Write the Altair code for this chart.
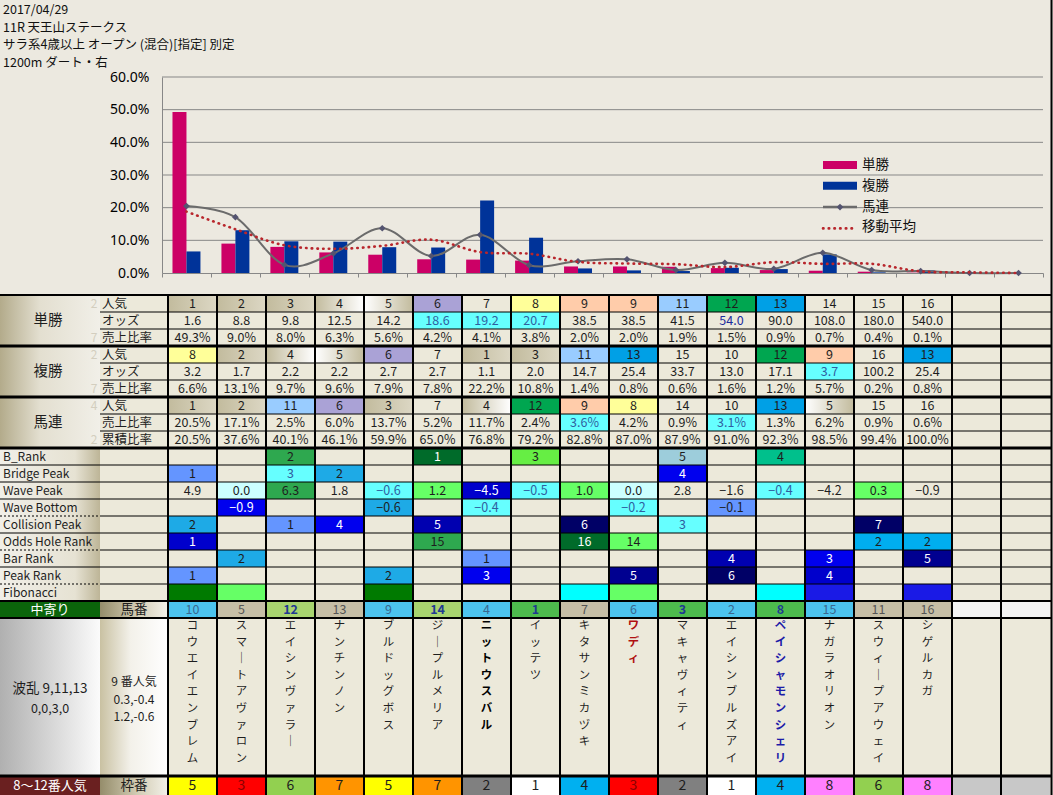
import altair as alt
import pandas as pd

# ---------------- data ----------------
HEADER_LINES = ["2017/04/29", "11R 天王山ステークス", "サラ系4歳以上 オープン (混合)[指定] 別定", "1200m  ダート・右"]
LEGEND_LABELS = ["単勝", "複勝", "馬連", "移動平均"]

SLOTS = list(range(1, 19))
WIN_SHARE = [49.3, 9.0, 8.0, 6.3, 5.6, 4.2, 4.1, 3.8, 2.0, 2.0, 1.9, 1.5, 0.9, 0.7, 0.4, 0.1]
PLACE_SHARE = [6.6, 13.1, 9.7, 9.6, 7.9, 7.8, 22.2, 10.8, 1.4, 0.8, 0.6, 1.6, 1.2, 5.7, 0.2, 0.8]
QUINELLA_LINE = [20.5, 17.1, 2.5, 6.0, 13.7, 5.2, 11.7, 2.4, 3.6, 4.2, 0.9, 3.1, 1.3, 6.2, 0.9, 0.6, 0.0, 0.0]
MOVING_AVG = [18.8, 13.4, 8.5, 7.4, 8.3, 10.2, 6.4, 5.9, 3.4, 2.9, 2.7, 1.8, 3.3, 2.8, 2.8, 0.5, 0.2, 0.0]

GROUP_LABELS = ["単勝", "複勝", "馬連"]
TOP_ROW_LABELS = ["人気", "オッズ", "売上比率", "人気", "オッズ", "売上比率", "人気", "売上比率", "累積比率"]
FAINT_MARKS = {0: "2", 2: "7", 3: "2", 5: "7", 6: "4", 8: "2"}

WIN_POP = [1, 2, 3, 4, 5, 6, 7, 8, 9, 9, 11, 12, 13, 14, 15, 16]
WIN_ODDS = [1.6, 8.8, 9.8, 12.5, 14.2, 18.6, 19.2, 20.7, 38.5, 38.5, 41.5, 54.0, 90.0, 108.0, 180.0, 540.0]
PLACE_POP = [8, 2, 4, 5, 6, 7, 1, 3, 11, 13, 15, 10, 12, 9, 16, 13]
PLACE_ODDS = [3.2, 1.7, 2.2, 2.2, 2.7, 2.7, 1.1, 2.0, 14.7, 25.4, 33.7, 13.0, 17.1, 3.7, 100.2, 25.4]
QUIN_POP = [1, 2, 11, 6, 3, 7, 4, 12, 9, 8, 14, 10, 13, 5, 15, 16]
QUIN_SHARE = [20.5, 17.1, 2.5, 6.0, 13.7, 5.2, 11.7, 2.4, 3.6, 4.2, 0.9, 3.1, 1.3, 6.2, 0.9, 0.6]
QUIN_CUM = [20.5, 37.6, 40.1, 46.1, 59.9, 65.0, 76.8, 79.2, 82.8, 87.0, 87.9, 91.0, 92.3, 98.5, 99.4, 100.0]

WIN_ODDS_STYLE = ["", "", "", "", "", "cy", "cy", "cy", "", "", "", "bt", "", "", "", ""]
PLACE_ODDS_STYLE = ["", "", "", "", "", "", "", "", "", "", "", "", "", "cy", "", ""]
QUIN_SHARE_STYLE = ["", "", "", "", "", "", "", "", "cy", "", "", "cy", "", "", "", ""]

LOW_ROW_LABELS = ["B_Rank", "Bridge Peak", "Wave Peak", "Wave Bottom", "Collision Peak",
                  "Odds Hole Rank", "Bar Rank", "Peak Rank", "Fibonacci"]
B_RANK = ["", "", "2", "", "", "1", "", "3", "", "", "5", "", "4", "", "", ""]
B_RANK_STYLE = ["", "", "mg", "", "", "dg", "", "lm", "", "", "gb", "", "tg", "", "", ""]
BRIDGE_PEAK = ["1", "", "3", "2", "", "", "", "", "", "", "4", "", "", "", "", ""]
BRIDGE_PEAK_STYLE = ["cb", "", "cy", "sk", "", "", "", "", "", "", "b1", "", "", "", "", ""]
WAVE_PEAK = ["4.9", "0.0", "6.3", "1.8", "-0.6", "1.2", "-4.5", "-0.5", "1.0", "0.0", "2.8", "-1.6", "-0.4", "-4.2", "0.3", "-0.9"]
WAVE_PEAK_STYLE = ["", "lc", "mg", "", "cy", "lg", "b2", "cy", "lg", "lc", "", "", "cy", "", "lg", ""]
WAVE_BOTTOM = ["", "-0.9", "", "", "-0.6", "", "-0.4", "", "", "-0.2", "", "-0.1", "", "", "", ""]
WAVE_BOTTOM_STYLE = ["", "b1", "", "", "sk", "", "cy", "", "", "cy", "", "cb", "", "", "", ""]
COLLISION_PEAK = ["2", "", "1", "4", "", "5", "", "", "6", "", "3", "", "", "", "7", ""]
COLLISION_PEAK_STYLE = ["sk", "", "cb", "b1", "", "b3", "", "", "nv", "", "cy", "", "", "", "nv", ""]
ODDS_HOLE_RANK = ["1", "", "", "", "", "15", "", "", "16", "14", "", "", "", "", "2", "2"]
ODDS_HOLE_RANK_STYLE = ["b2", "", "", "", "", "mg", "", "", "dg", "lg", "", "", "", "", "ab", "ab"]
BAR_RANK = ["", "2", "", "", "", "", "1", "", "", "", "", "4", "", "3", "", "5"]
BAR_RANK_STYLE = ["", "sk", "", "", "", "", "cb", "", "", "", "", "b3", "", "b1", "", "b4"]
PEAK_RANK = ["1", "", "", "", "2", "", "3", "", "", "5", "", "6", "", "4", "", ""]
PEAK_RANK_STYLE = ["cb", "", "", "", "sk", "", "b1", "", "", "b4", "", "nv", "", "b2", "", ""]
FIBONACCI = ["", "", "", "", "", "", "", "", "", "", "", "", "", "", "", ""]
FIBONACCI_STYLE = ["fg", "lg", "", "", "fg", "", "", "", "aq", "lg", "", "", "aq", "fb", "", "fb"]

HORSE_NO = [10, 5, 12, 13, 9, 14, 4, 1, 7, 6, 3, 2, 8, 15, 11, 16]
HORSE_NO_STYLE = ["db", "dt", "dl", "dt", "db", "dl", "db", "dd", "dt", "db", "dd", "db", "dd", "db", "dt", "dt"]
HORSE_NO_BOLD = [False, False, True, False, False, True, False, True, False, False, True, False, True, False, False, False]
NAMES = ["コウエイエンブレム", "スマートアヴァロン", "エイシンヴァラー", "ナンチンノン", "ブルドッグボス",
         "ジープルメリア", "ニットウスバル", "イッテツ", "キタサンミカヅキ", "ワディ", "マキャヴィティ",
         "エイシンブルズアイ", "ペイシャモンシェリ", "ナガラオリオン", "スウィープアウェイ", "シゲルカガ"]
NAME_STYLE = ["", "", "", "", "", "", "bk", "", "", "rd", "", "", "bl", "", "", ""]
FRAME_NO = [5, 3, 6, 7, 5, 7, 2, 1, 4, 3, 2, 1, 4, 8, 6, 8]
SUMMARY_LEFT = ["波乱  9,11,13", "0,0,3,0"]
SUMMARY_RIGHT = ["9 番人気", "0.3,-0.4", "1.2,-0.6"]
SIDE_LABELS = {"nakayori": "中寄り", "umaban": "馬番", "wakuban": "枠番", "popular": "8〜12番人気"}

# ---------------- styles ----------------
BG = "#ECE9E0"
CELL = "#ECE9DA"
INK = "#1E1E1E"
WHITE = "#FFFFFF"
FONT = "Noto Sans CJK JP"
PINK, BLUE = "#CC0066", "#003399"
AX = "#878787"

STYLE = {
    "": (None, INK), "bt": (None, "#1B2C9C"), "cy": ("#66FFFF", "#2F5F9F"),
    "mg": ("#2EA84F", INK), "dg": ("#006B2A", WHITE), "lm": ("#66EE44", INK),
    "gb": ("#9DCDDB", INK), "tg": ("#00C08C", INK), "cb": ("#6495FF", INK),
    "sk": ("#1EAAE6", INK), "b1": ("#0000EE", WHITE), "b2": ("#0000CC", WHITE),
    "b3": ("#0000B0", WHITE), "b4": ("#000090", WHITE), "nv": ("#000066", WHITE),
    "lc": ("#CCFFFF", INK), "lg": ("#66FF66", INK), "fg": ("#007A00", INK),
    "aq": ("#00FFFF", INK), "fb": ("#1A1AE6", INK), "ab": ("#00AEEF", INK),
    "p6": ("#AAA2D6", INK), "p8": ("#FFFF99", INK), "p9": ("#FFCCAA", INK),
    "p11": ("#99CCFF", INK), "p12": ("#00A650", INK), "p13": ("#00A0E6", INK),
    "pa": ("g:pop_a", INK), "pb": ("g:pop_b", INK), "pc": ("g:pop_c", INK),
    "db": ("#4CC3EE", "#3A6890"), "dt": ("#C6BEA6", "#555555"), "dl": ("#A8D46F", "#1F3A93"),
    "dd": ("#4DBB4D", "#1F3A93"), "dw": ("#F4F4F4", INK),
}
FRAME_FILL = {1: "#FFFFFF", 2: "#808080", 3: "#FF0000", 4: "#00B0F0", 5: "#FFFF00",
              6: "#92D050", 7: "#FF9400", 8: "#FF80FF"}
GRADS = {
    "lab_top": [("#B3AB8B", 0), ("#E3DFD0", 0.4), ("#F1EFE8", 1)],
    "lab_low": [("#F1EFE8", 0), ("#E6E2D3", 0.75), ("#BDB597", 1)],
    "tan": [("#958D6B", 0), ("#D2CCB4", 0.55), ("#F3F1E9", 1)],
    "gray": [("#B0B0B0", 0), ("#FBFBFB", 1)],
    "tanw": [("#C9C1A2", 0), ("#F3F1EA", 0.45), ("#FFFFFF", 1)],
    "pop_a": [("#C2BB9D", 0), ("#DCD7C4", 1)],
    "pop_b": [("#C2BB9D", 0), ("#FFFFFF", 1)],
    "pop_c": [("#FFFFFF", 0), ("#C2BB9D", 1)],
}


def pop_key(v):
    if v <= 3:
        return "pa"
    if v == 4:
        return "pb"
    if v == 5:
        return "pc"
    k = f"p{v}"
    return k if k in STYLE else ""


def pct(vals):
    return [f"{v:.1f}%" for v in vals]


def num(vals):
    return [f"{v:.1f}" for v in vals]


# ---------------- table geometry ----------------
TOP, RH, CX0, CW, NCOL = 295, 17, 168, 49, 18
LAB_A, LAB_B, RIGHT = 100, 168, 1051
NAME_TOP, NAME_BOT, FRAME_BOT = 618, 776, 795
NAME_FS, NAME_LH = 11.4, 16.6

def cx(k):
    return CX0 + CW * k


def ry(r):
    return TOP + RH * r


rects, grads = [], []
texts = {("center", "normal"): [], ("center", "bold"): [], ("left", "normal"): []}
hrules, hdots, vrules = [], [], []


def add_rect(x, x2, y, y2, fill):
    if fill is None:
        return
    if fill.startswith("g:"):
        grads.append(dict(x=x, x2=x2, y=y, y2=y2, g=fill[2:]))
    else:
        rects.append(dict(x=x, x2=x2, y=y, y2=y2, fill=fill))


def add_text(x, y, t, c=INK, s=12.5, align="center", weight="normal"):
    if t == "":
        return
    texts[(align, weight)].append(dict(x=x, y=y, t=t.replace("-", "−") if t[0] == "-" else t, c=c, s=s))


add_rect(0, RIGHT, TOP, FRAME_BOT, CELL)

# top section
top_rows = [
    ([str(v) for v in WIN_POP], [pop_key(v) for v in WIN_POP]),
    (num(WIN_ODDS), WIN_ODDS_STYLE),
    (pct(WIN_SHARE), [""] * 16),
    ([str(v) for v in PLACE_POP], [pop_key(v) for v in PLACE_POP]),
    (num(PLACE_ODDS), PLACE_ODDS_STYLE),
    (pct(PLACE_SHARE), [""] * 16),
    ([str(v) for v in QUIN_POP], [pop_key(v) for v in QUIN_POP]),
    (pct(QUIN_SHARE), QUIN_SHARE_STYLE),
    (pct(QUIN_CUM), [""] * 16),
]
for g, lab in enumerate(GROUP_LABELS):
    add_rect(0, LAB_A, ry(3 * g), ry(3 * g + 3), "g:lab_top")
    add_text(LAB_A / 2 - 2, ry(3 * g) + RH * 1.5, lab, s=14.5)
for r, (vals, styles) in enumerate(top_rows):
    add_text(LAB_A + 2, ry(r) + RH / 2, TOP_ROW_LABELS[r], s=12.5, align="left")
    if r in FAINT_MARKS:
        add_text(LAB_A - 6, ry(r) + RH / 2, FAINT_MARKS[r], c="#D3CEBF", s=12)
    for k, (v, st) in enumerate(zip(vals, styles)):
        fill, tc = STYLE[st]
        add_rect(cx(k), cx(k + 1), ry(r), ry(r + 1), fill)
        add_text(cx(k) + CW / 2, ry(r) + RH / 2, v, c=tc)

# lower section
low_rows = [(B_RANK, B_RANK_STYLE), (BRIDGE_PEAK, BRIDGE_PEAK_STYLE), (WAVE_PEAK, WAVE_PEAK_STYLE),
            (WAVE_BOTTOM, WAVE_BOTTOM_STYLE), (COLLISION_PEAK, COLLISION_PEAK_STYLE),
            (ODDS_HOLE_RANK, ODDS_HOLE_RANK_STYLE), (BAR_RANK, BAR_RANK_STYLE),
            (PEAK_RANK, PEAK_RANK_STYLE), (FIBONACCI, FIBONACCI_STYLE)]
for i, (vals, styles) in enumerate(low_rows):
    r = 9 + i
    add_rect(0, LAB_A, ry(r), ry(r + 1), "g:lab_low")
    add_text(3, ry(r) + RH / 2, LOW_ROW_LABELS[i], s=12, align="left")
    for k, (v, st) in enumerate(zip(vals, styles)):
        fill, tc = STYLE[st]
        add_rect(cx(k), cx(k + 1), ry(r), ry(r + 1), fill)
        add_text(cx(k) + CW / 2, ry(r) + RH / 2, v, c=tc)

# horse number row
r = 18
add_rect(0, LAB_A, ry(r), ry(r + 1), "#0B650B")
add_text(LAB_A / 2, ry(r) + RH / 2, SIDE_LABELS["nakayori"], c=WHITE, s=13)
add_rect(LAB_A, LAB_B, ry(r), ry(r + 1), "g:tan")
add_text((LAB_A + LAB_B) / 2, ry(r) + RH / 2, SIDE_LABELS["umaban"], s=13.5)
for k in range(NCOL):
    if k < 16:
        fill, tc = STYLE[HORSE_NO_STYLE[k]]
        add_rect(cx(k), cx(k + 1), ry(r), ry(r + 1), fill)
        if HORSE_NO_BOLD[k]:
            add_text(cx(k) + CW / 2, ry(r) + RH / 2, str(HORSE_NO[k]), c="#1F3A93", weight="bold")
        else:
            add_text(cx(k) + CW / 2, ry(r) + RH / 2, str(HORSE_NO[k]), c=tc)
    else:
        add_rect(cx(k), cx(k + 1), ry(r), ry(r + 1), STYLE["dw"][0])

# names area
add_rect(0, LAB_A, NAME_TOP, NAME_BOT, "g:gray")
add_rect(LAB_A, LAB_B, NAME_TOP, NAME_BOT, "g:tanw")
add_text(LAB_A / 2, 689, SUMMARY_LEFT[0], s=13.5)
add_text(LAB_A / 2, 709, SUMMARY_LEFT[1], s=12.5)
for i, t in enumerate(SUMMARY_RIGHT):
    add_text((LAB_A + LAB_B) / 2, 682 + 17.5 * i, t, s=12)

name_rows = {"": [], "bk": [], "rd": [], "bl": []}
for k, nm in enumerate(NAMES):
    vt = "\n".join("｜" if ch == "ー" else ch for ch in nm)
    name_rows[NAME_STYLE[k]].append(dict(x=cx(k) + CW / 2, y=NAME_TOP + 2, t=vt))

# frame row
add_rect(0, LAB_A, NAME_BOT, FRAME_BOT, "#6A2020")
add_text(LAB_A / 2, NAME_BOT + 9.5, SIDE_LABELS["popular"], c=WHITE, s=13)
add_rect(LAB_A, LAB_B, NAME_BOT, FRAME_BOT, "g:tan")
add_text((LAB_A + LAB_B) / 2, NAME_BOT + 9.5, SIDE_LABELS["wakuban"], s=13.5)
for k in range(NCOL):
    if k < 16:
        f = FRAME_NO[k]
        add_rect(cx(k), cx(k + 1), NAME_BOT, FRAME_BOT, FRAME_FILL[f])
        add_text(cx(k) + CW / 2, NAME_BOT + 9.5, str(f), c="#8B0000" if f == 3 else INK, s=14)
    else:
        add_rect(cx(k), cx(k + 1), NAME_BOT, FRAME_BOT, "#C8C8C8")

# grid lines
hrules.append(dict(x=0, x2=RIGHT, y=ry(0), w=2))
for r in range(1, 9):
    if r % 3 == 0:
        hrules.append(dict(x=0, x2=RIGHT, y=ry(r), w=3))
    else:
        hrules.append(dict(x=LAB_A, x2=RIGHT, y=ry(r), w=1))
hrules.append(dict(x=0, x2=RIGHT, y=ry(9), w=3))
for r in range(10, 18):
    hrules.append(dict(x=LAB_A, x2=RIGHT, y=ry(r), w=1))
    if r in (13, 15, 17):
        hdots.append(dict(x=0, x2=LAB_A, y=ry(r), w=1))
    else:
        hrules.append(dict(x=0, x2=LAB_A, y=ry(r), w=1))
hrules.append(dict(x=0, x2=RIGHT, y=ry(18), w=2))
hrules.append(dict(x=0, x2=RIGHT, y=NAME_TOP, w=2))
hrules.append(dict(x=0, x2=RIGHT, y=NAME_BOT, w=3))
for k in range(NCOL):
    vrules.append(dict(x=cx(k), y=TOP, y2=FRAME_BOT, w=2))
vrules.append(dict(x=RIGHT + 0.5, y=0, y2=FRAME_BOT, w=2))

# header & legend (laid out in pixel space)
for i, t in enumerate(HEADER_LINES):
    add_text(3, 10 + 17.7 * i, t, c="#111111", s=12.5, align="left")
LEG_X0, LEG_X1, LEG_Y0, LEG_DY = 823, 857, 165, 20.8
for i, t in enumerate(LEGEND_LABELS):
    add_text(LEG_X1 + 5, LEG_Y0 + LEG_DY * i, t, c="#111111", s=13.5, align="left")
legend_rects = [dict(x=LEG_X0, x2=LEG_X1, y=LEG_Y0 + LEG_DY * i - 4, y2=LEG_Y0 + LEG_DY * i + 4, fill=c)
                for i, c in enumerate([PINK, BLUE])]
rects.extend(legend_rects)

# ---------------- chart layer ----------------
bar_df = pd.DataFrame({
    "slot": list(range(1, 17)) * 2,
    "series": [LEGEND_LABELS[0]] * 16 + [LEGEND_LABELS[1]] * 16,
    "share": [v / 100 for v in WIN_SHARE] + [v / 100 for v in PLACE_SHARE],
})
line_df = pd.DataFrame({"slot": SLOTS, "quin": [v / 100 for v in QUINELLA_LINE],
                        "ma": [v / 100 for v in MOVING_AVG]})
TICKS = [0.0, 0.1, 0.2, 0.3, 0.4, 0.5, 0.6]
grid_df = pd.DataFrame({"v": TICKS[1:]})

PLOT_L, PLOT_R, PLOT_T, PLOT_B, H, W = 162, 1043, 77, 273, 795, 1053
xs = alt.Scale(domain=SLOTS, range=[PLOT_L, PLOT_R], paddingInner=0, paddingOuter=0)
ys = alt.Scale(domain=[0, 0.6], range=[PLOT_B, PLOT_T], nice=False)
x_axis = alt.Axis(offset=-(H - PLOT_B), labels=False, title=None, tickBand="extent", tickSize=4,
                  tickColor=AX, domainColor=AX, grid=False)
y_axis = alt.Axis(offset=-PLOT_L, format=".1%", values=TICKS, ticks=False, domainColor=AX,
                  labelFontSize=14, labelColor="#000000", labelPadding=13, labelFont="Noto Sans",
                  grid=False, title=None)

grid = alt.Chart(grid_df).mark_rule(color=AX, strokeWidth=1).encode(
    y=alt.Y("v:Q", scale=ys, axis=y_axis), x=alt.value(PLOT_L), x2=alt.value(PLOT_R))
bars = alt.Chart(bar_df).mark_bar().encode(
    x=alt.X("slot:O", scale=xs, axis=x_axis),
    xOffset=alt.XOffset("series:N", scale=alt.Scale(domain=LEGEND_LABELS[:2], paddingInner=0, paddingOuter=0.75)),
    y=alt.Y("share:Q", scale=ys, axis=y_axis),
    color=alt.Color("series:N", scale=alt.Scale(domain=LEGEND_LABELS[:2], range=[PINK, BLUE]), legend=None),
)
xl = alt.X("slot:O", scale=xs, axis=x_axis, bandPosition=0.5)
qline = alt.Chart(line_df).mark_line(color="#6B6B6B", strokeWidth=2, interpolate="cardinal").encode(
    x=xl, y=alt.Y("quin:Q", scale=ys, axis=y_axis))
qpts = alt.Chart(line_df).mark_point(shape="diamond", filled=True, size=45, color="#545470", opacity=1).encode(
    x=xl, y=alt.Y("quin:Q", scale=ys, axis=y_axis))
ma = alt.Chart(line_df).mark_line(color="#B8262C", strokeWidth=2.6, strokeDash=[0.5, 5.2], strokeCap="round",
                                  interpolate="cardinal").encode(
    x=xl, y=alt.Y("ma:Q", scale=ys, axis=y_axis))
chart_layer = alt.layer(grid, bars, qline, qpts, ma)

# ---------------- table layer ----------------
TX = alt.Scale(domain=[0, W], range=[0, W], nice=False, zero=False)
TY = alt.Scale(domain=[0, H], range=[0, H], nice=False, zero=False)


def X(f="x"):
    return alt.X(f"{f}:Q", scale=TX, axis=None)


def Y(f="y"):
    return alt.Y(f"{f}:Q", scale=TY, axis=None)


layers = []
layers.append(alt.Chart(pd.DataFrame(rects)).mark_rect(strokeWidth=0).encode(
    x=X(), x2="x2", y=Y(), y2="y2", color=alt.Color("fill:N", scale=None)))
gdf = pd.DataFrame(grads)
for key, stops in GRADS.items():
    sub = gdf[gdf["g"] == key]
    if len(sub) == 0:
        continue
    gr = alt.Gradient(gradient="linear", stops=[alt.GradientStop(color=c, offset=o) for c, o in stops],
                      x1=0, x2=1, y1=0, y2=0)
    layers.append(alt.Chart(sub).mark_rect(color=gr, strokeWidth=0).encode(x=X(), x2="x2", y=Y(), y2="y2"))
layers.append(alt.Chart(pd.DataFrame(hrules)).mark_rule(color="#000000").encode(
    x=X(), x2="x2", y=Y(), size=alt.Size("w:Q", scale=None)))
layers.append(alt.Chart(pd.DataFrame(hdots)).mark_rule(color="#000000", strokeDash=[2, 2]).encode(
    x=X(), x2="x2", y=Y(), size=alt.Size("w:Q", scale=None)))
layers.append(alt.Chart(pd.DataFrame(vrules)).mark_rule(color="#000000").encode(
    x=X(), y=Y(), y2="y2", size=alt.Size("w:Q", scale=None)))
# legend line swatches
leg_line = pd.DataFrame([dict(x=LEG_X0, x2=LEG_X1, y=LEG_Y0 + LEG_DY * 2 + 0.5, xm=(LEG_X0 + LEG_X1) / 2)])
leg_dot = pd.DataFrame([dict(x=LEG_X0, x2=LEG_X1, y=LEG_Y0 + LEG_DY * 3 + 1)])
layers.append(alt.Chart(leg_line).mark_rule(color="#6B6B6B", strokeWidth=2.5).encode(x=X(), x2="x2", y=Y()))
layers.append(alt.Chart(leg_line).mark_point(shape="diamond", filled=True, size=45, color="#545470", opacity=1).encode(
    x=X("xm"), y=Y()))
layers.append(alt.Chart(leg_dot).mark_rule(color="#B8262C", strokeWidth=2.6, strokeDash=[0.5, 5.2],
                                          strokeCap="round").encode(x=X(), x2="x2", y=Y()))
for (align, weight), rows in texts.items():
    if not rows:
        continue
    layers.append(alt.Chart(pd.DataFrame(rows)).mark_text(
        align=align, baseline="middle", font=FONT, fontWeight=weight).encode(
        x=X(), y=Y(), text="t:N", color=alt.Color("c:N", scale=None), size=alt.Size("s:Q", scale=None)))
NAME_COLORS = {"": ("#1E1E1E", "normal"), "bk": ("#000000", "bold"), "rd": ("#B01010", "bold"),
               "bl": ("#1C1CA8", "bold")}
for key, rows in name_rows.items():
    if not rows:
        continue
    c, wgt = NAME_COLORS[key]
    layers.append(alt.Chart(pd.DataFrame(rows)).mark_text(
        align="center", baseline="top", font=FONT, fontSize=NAME_FS, lineHeight=NAME_LH, lineBreak="\n",
        color=c, fontWeight=wgt).encode(x=X(), y=Y(), text="t:N"))
table_layer = alt.layer(*layers)

chart = alt.layer(chart_layer, table_layer).resolve_scale(
    x="independent", y="independent", color="independent", size="independent"
).properties(width=W, height=H, padding=0, autosize="none", background=BG).configure_view(stroke=None)

chart.save("out.html", embed_options={"renderer": "svg", "actions": False})
